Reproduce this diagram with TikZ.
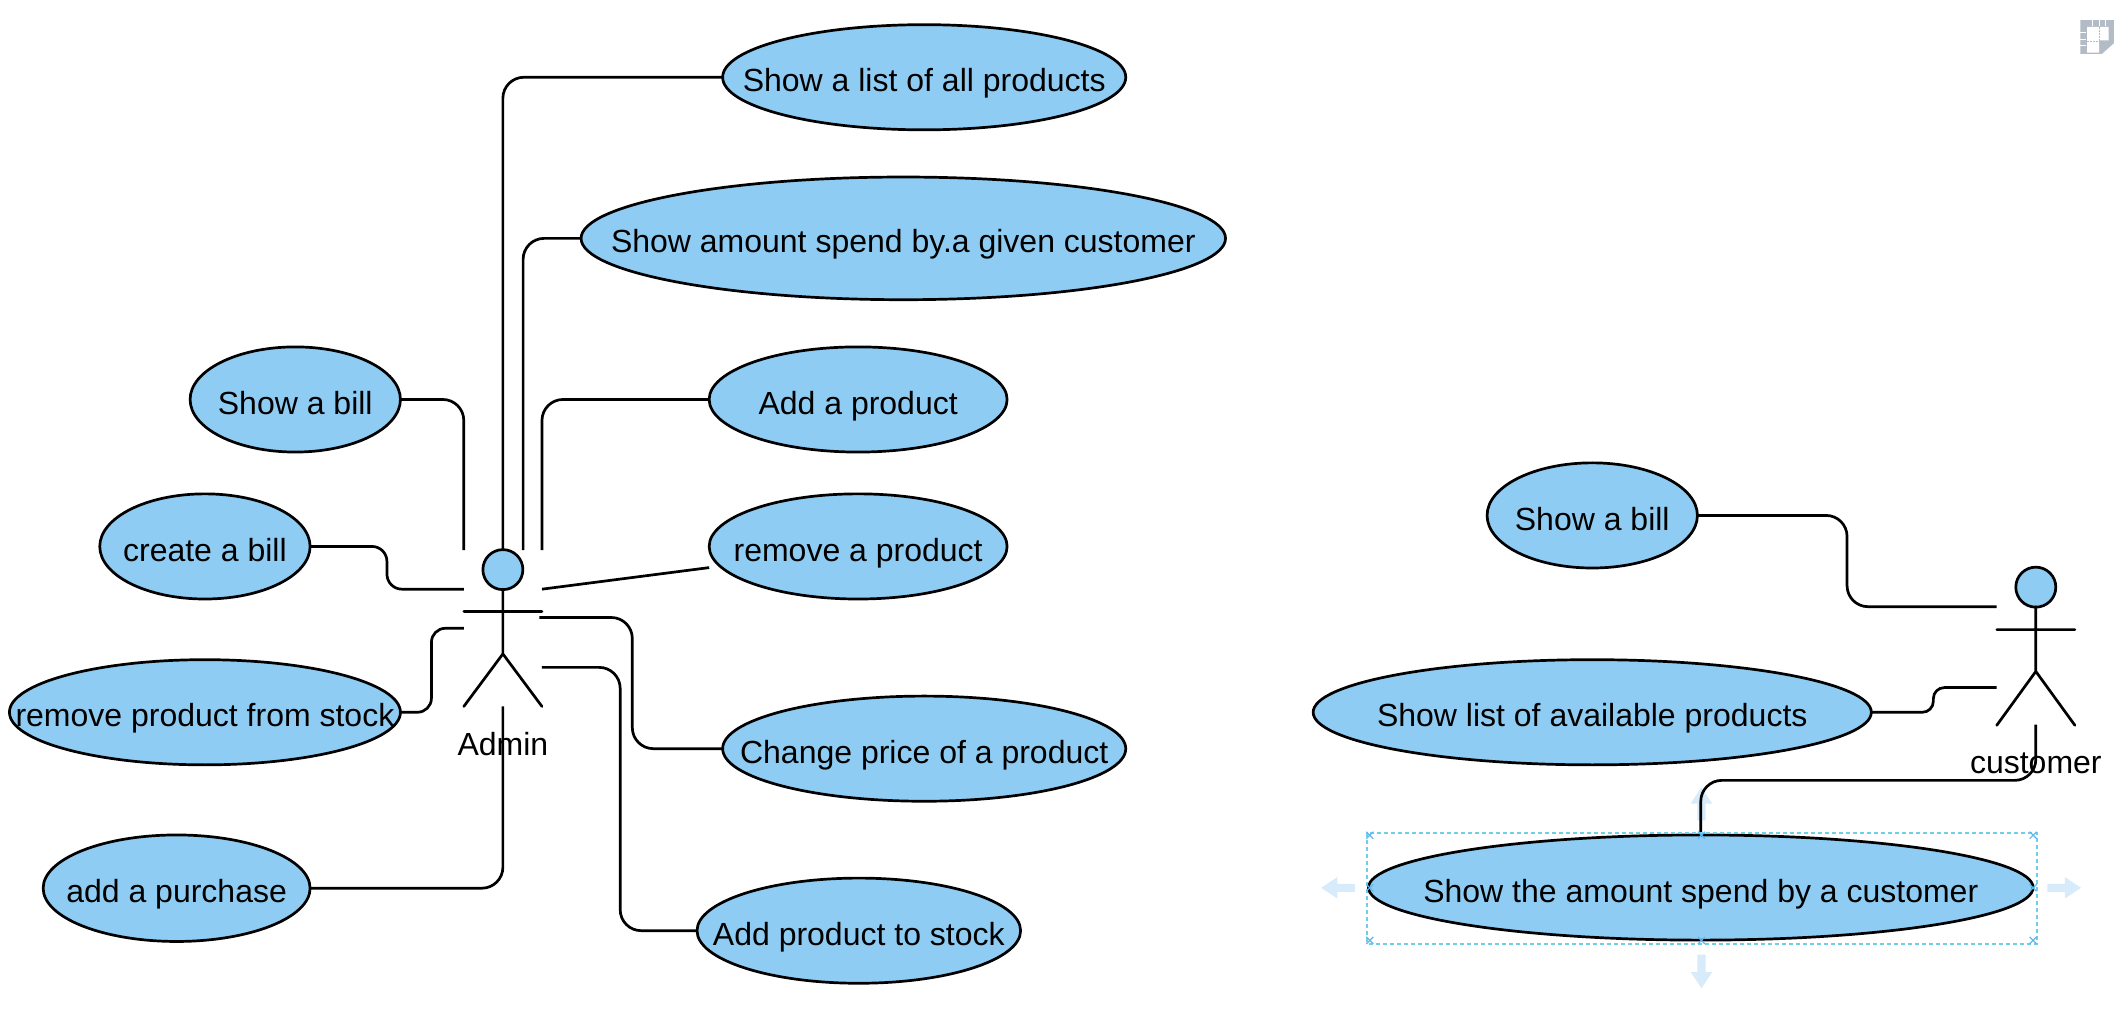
\documentclass[tikz,border=0pt]{standalone}
\usepackage{fontspec}
\setmainfont{Liberation Sans}
\usetikzlibrary{shapes.geometric,calc}
\definecolor{ucfill}{HTML}{8ECCF3}
\definecolor{ghost}{HTML}{D7EBFA}
\definecolor{selcol}{HTML}{6FCFE8}
\definecolor{handle}{HTML}{5FB8EE}
\definecolor{icongray}{HTML}{B3BCC6}
\definecolor{icongreen}{HTML}{8FD3A8}
\newcommand{\ucnode}[6]{%
  \node[usecase,minimum width={1.3482*(#3-#2)*1pt},minimum height={1.3482*(#5-#4)*1pt}] (#1) at ({(#2+#3)/2},{(#4+#5)/2+0.3}) {\raisebox{-14.6pt}[0pt][0pt]{\makebox[0pt][c]{#6}}};}
\newcommand{\handlemark}[2]{\draw[handlemk] ($(#1,#2)+(-2.6,-2.6)$) -- ($(#1,#2)+(2.6,2.6)$) ($(#1,#2)+(-2.6,2.6)$) -- ($(#1,#2)+(2.6,-2.6)$);}
\tikzset{
  usecase/.style={ellipse,draw=black,fill=ucfill,line width=2.7pt,inner sep=0pt,outer sep=0pt,font=\fontsize{32}{36}\selectfont},
  conn/.style={draw=black,line width=2.7pt,rounded corners=21pt},
  actorline/.style={draw=black,line width=2.7pt,line cap=round,line join=round},
  lbl/.style={inner sep=0pt,font=\fontsize{32}{36}\selectfont},
  actorbox/.style={inner sep=0pt,outer sep=0pt,minimum width=78.2pt,minimum height=156.4pt},
  ghostarrow/.style={fill=ghost,draw=none},
  selbox/.style={draw=selcol,line width=1.6pt,dash pattern=on 4pt off 3pt},
  handlemk/.style={draw=handle,line width=1.2pt},
}
\begin{document}
\begin{tikzpicture}[x=1.3482pt,y=-1.3482pt]
\useasboundingbox (0,0) rectangle (1568,767);

% ghost arrows (behind everything)
\fill[ghostarrow] (980,658.5) -- (992,650.5) -- (992,655.5) -- (1005,655.5) -- (1005,661.5) -- (992,661.5) -- (992,666.5) -- cycle;
\fill[ghostarrow] (1543.5,658.5) -- (1531.5,650.5) -- (1531.5,655.5) -- (1518.5,655.5) -- (1518.5,661.5) -- (1531.5,661.5) -- (1531.5,666.5) -- cycle;
\fill[ghostarrow] (1262,584) -- (1254,596) -- (1259,596) -- (1259,608.5) -- (1265,608.5) -- (1265,596) -- (1270,596) -- cycle;
\fill[ghostarrow] (1262,733) -- (1254,721) -- (1259,721) -- (1259,708) -- (1265,708) -- (1265,721) -- (1270,721) -- cycle;

% use cases, left
\ucnode{list}{536}{835}{18}{96}{Show a list of all products}
\ucnode{amount}{431}{909}{131}{222}{Show amount spend by.a given customer}
\ucnode{addp}{526}{747}{257}{335}{Add a product}
\ucnode{remp}{526}{747}{366}{444}{remove a product}
\ucnode{price}{536}{835}{516}{594}{Change price of a product}
\ucnode{stock}{517}{757}{651}{729}{Add product to stock}
\ucnode{bill}{141}{297}{257}{335}{Show a bill}
\ucnode{create}{74}{230}{366}{444}{create a bill}
\ucnode{remstock}{7}{297}{489}{567}{remove product from stock}
\ucnode{purchase}{32}{230}{619}{698}{add a purchase}
% use cases, right
\ucnode{rbill}{1103}{1259}{343}{421}{Show a bill}
\ucnode{avail}{974}{1388}{489}{567}{Show list of available products}
\ucnode{spent}{1015}{1508}{619}{697}{Show the amount spend by a customer}

% actors
\node[actorbox] (admin) at (373,466) {};
\node[actorbox] (cust) at (1510,479.5) {};
\fill[fill=ucfill,draw=black,line width=2.7pt] (373,422.5) circle[radius=20pt];
\draw[actorline] (373,437) -- (373,485) (344,453.5) -- (402,453.5) (344,524) -- (373,485) -- (402,524);
\fill[fill=ucfill,draw=black,line width=2.7pt] (1510,435.5) circle[radius=20pt];
\draw[actorline] (1510,450) -- (1510,498) (1481,467) -- (1539,467) (1481,538) -- (1510,498) -- (1539,538);
\node[lbl] (adminlbl) at (373,552) {Admin};
\node[lbl] (custlbl) at (1510,566) {customer};

% connector ends on the actor boxes
\coordinate (a2) at (388,408);
\coordinate (a4) at (402,437);
\coordinate (a5) at (400,458);
\coordinate (a6) at (402,495);
\coordinate (a8) at (344,437);
\coordinate (a9) at (344,466);
\coordinate (remend) at (526,421);
\coordinate (c1) at (1481,450);
\coordinate (c2) at (1481,510);

% connectors, left
\draw[conn] (list.west) -| (admin.north);
\draw[conn] (amount.west) -| (a2);
\draw[conn] (addp.west) -| (admin.north east);
\draw[conn] (remend) -- (a4);
\draw[conn] (price.west) -- ++(-67,0) |- (a5);
\draw[conn] (stock.west) -- ++(-57,0) |- (a6);
\draw[conn] (bill.east) -| (admin.north west);
\draw[conn,rounded corners=15pt] (create.east) -- ++(57,0) |- (a8);
\draw[conn,rounded corners=14pt] (remstock.east) -- ++(23,0) |- (a9);
\draw[conn] (purchase.east) -| (admin.south);
% connectors, right
\draw[conn] (rbill.east) -- ++(111,0) |- (c1);
\draw[conn,rounded corners=11pt] (avail.east) -- ++(46,0) |- (c2);
\draw[conn] (spent.north) |- ++(124,-40.5) -| (cust.south);

% selection
\draw[selbox] (1014,618) rectangle (1511,700);
\foreach \hx in {1016,1262,1508}{\foreach \hy in {619.5,697.5}{\handlemark{\hx}{\hy}}}
\handlemark{1016}{658.5}
\handlemark{1508}{658.5}

% page icon, top right
\fill[icongray] (1543,15) -- (1568,15) -- (1568,32) -- (1559,40) -- (1543,40) -- cycle;
\fill[white] (1548,20) -- (1564,20) -- (1564,30) -- (1557,30) -- (1557,39) -- (1548,39) -- cycle;
\draw[white,line width=1pt] (1552,15) -- (1552,19) (1557,15) -- (1557,19) (1562,15) -- (1562,19) (1543,24) -- (1547,24) (1543,29) -- (1547,29) (1543,34) -- (1547,34);
\draw[icongreen,line width=1pt,dash pattern=on 2pt off 1pt] (1548,30.5) -- (1557,30.5) -- (1557,20);
\end{tikzpicture}
\end{document}
